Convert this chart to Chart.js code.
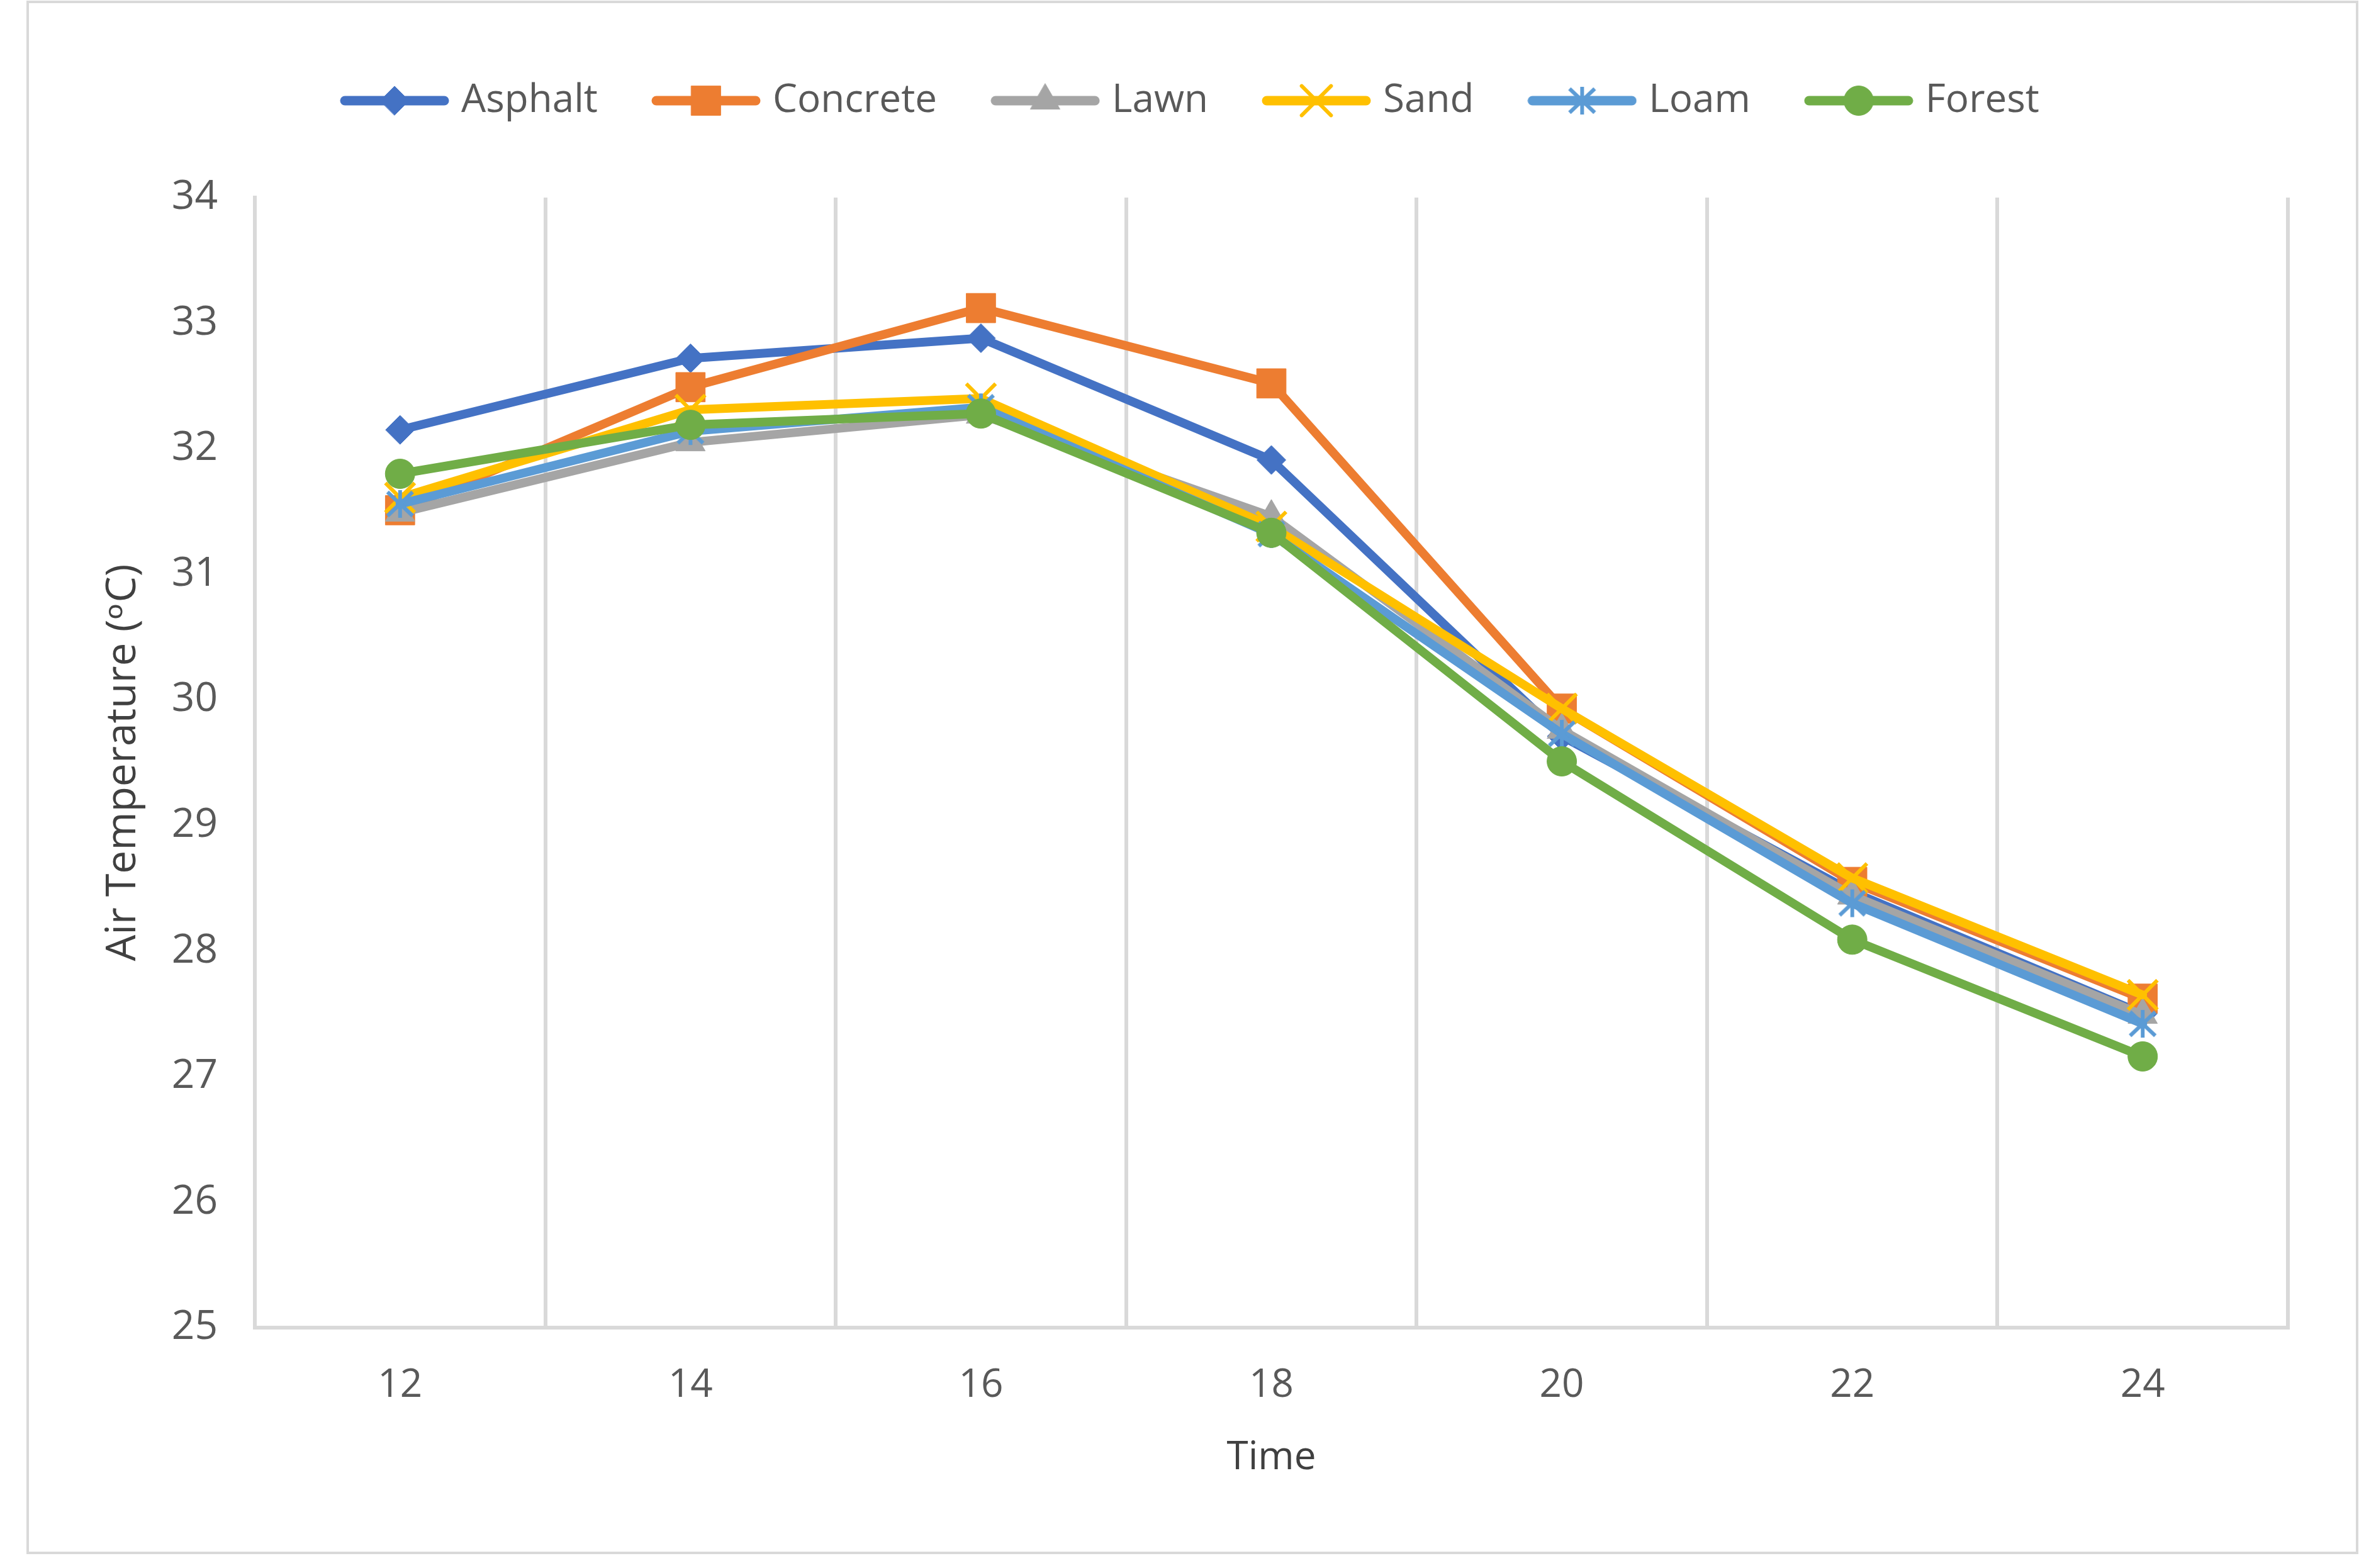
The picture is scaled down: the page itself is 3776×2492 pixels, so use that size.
<!DOCTYPE html>
<html>
<head>
<meta charset="utf-8">
<script src="https://cdn.jsdelivr.net/npm/chart.js@4.4.0/dist/chart.umd.min.js"></script>
<style>
  html, body { margin: 0; padding: 0; background: #fff; }
  canvas { display: block; }
</style>
</head>
<body>
<canvas id="tempChart" width="3776" height="2492"></canvas>
<script>
// Hours of the day (x categories)
const hours = ["12", "14", "16", "18", "20", "22", "24"];

// Air temperature (°C) per surface type
const asphalt = [32.15, 32.72, 32.88, 31.91, 29.71, 28.47, 27.5];
const concrete = [31.51, 32.49, 33.12, 32.52, 29.93, 28.55, 27.62];
const lawn = [31.49, 32.05, 32.27, 31.46, 29.76, 28.44, 27.49];
const sand = [31.61, 32.31, 32.4, 31.38, 29.93, 28.58, 27.65];
const loam = [31.56, 32.14, 32.33, 31.32, 29.73, 28.38, 27.42];
const forest = [31.8, 32.19, 32.28, 31.33, 29.51, 28.09, 27.16];

const surfaceNames = ["Asphalt", "Concrete", "Lawn", "Sand", "Loam", "Forest"];
const series = [asphalt, concrete, lawn, sand, loam, forest];
const surfaceColors = ["#4472c4", "#ed7d31", "#a5a5a5", "#ffc000", "#5b9bd5", "#70ad47"];

Chart.defaults.font.family = "'Open Sans', 'DejaVu Sans', sans-serif";

// Excel style asterisk marker (vertical bar + X) for Loam
function asteriskMarker(color) {
  const cv = document.createElement("canvas");
  cv.width = 52;
  cv.height = 52;
  const c = cv.getContext("2d");
  c.strokeStyle = color;
  c.lineWidth = 6;
  c.beginPath();
  c.moveTo(26, 4); c.lineTo(26, 48);
  c.moveTo(6, 7); c.lineTo(46, 45);
  c.moveTo(46, 7); c.lineTo(6, 45);
  c.stroke();
  return cv;
}

const markerStyles = ["rectRot", "rect", "triangle", "crossRot", asteriskMarker(surfaceColors[4]), "circle"];
const markerRadii = [23, 33, 27, 33, 23, 23.5];
const markerBorders = [1, 1, 1, 6, 6, 1];

// legend symbol: short line with the marker in the middle
function legendSymbol(i) {
  const cv = document.createElement("canvas");
  cv.width = 174;
  cv.height = 60;
  const c = cv.getContext("2d");
  c.strokeStyle = surfaceColors[i];
  c.fillStyle = surfaceColors[i];
  c.lineWidth = 15;
  c.lineCap = "round";
  c.beginPath();
  c.moveTo(8, 30);
  c.lineTo(166, 30);
  c.stroke();
  c.lineWidth = markerBorders[i];
  Chart.helpers.drawPoint(c, {
    pointStyle: markerStyles[i],
    radius: markerRadii[i],
    rotation: 0,
    borderWidth: markerBorders[i],
  }, 87, 30);
  return cv;
}

const chartFrame = {
  id: "chartFrame",
  beforeDraw(chart) {
    const c = chart.ctx;
    c.save();
    c.fillStyle = "#ffffff";
    c.fillRect(0, 0, chart.width, chart.height);
    c.strokeStyle = "#d9d9d9";
    c.lineWidth = 4;
    c.strokeRect(44, 3, 3702, 2465);
    c.restore();
  },
};

const ctx = document.getElementById("tempChart").getContext("2d");
new Chart(ctx, {
  type: "line",
  data: {
    labels: hours,
    datasets: surfaceNames.map((name, i) => ({
      label: name,
      data: series[i],
      borderColor: surfaceColors[i],
      backgroundColor: surfaceColors[i],
      borderWidth: 14,
      borderCapStyle: "round",
      borderJoinStyle: "round",
      pointStyle: markerStyles[i],
      pointRadius: markerRadii[i],
      pointBorderWidth: markerBorders[i],
      pointBackgroundColor: surfaceColors[i],
      pointBorderColor: surfaceColors[i],
      tension: 0,
      order: surfaceNames.length - i, // later series drawn on top, like Excel
    })),
  },
  options: {
    responsive: false,
    devicePixelRatio: 1,
    animation: false,
    events: [],
    layout: {
      padding: { top: 32, left: 157, right: 140, bottom: 137 },
    },
    plugins: {
      tooltip: { enabled: false },
      // empty title used only as a gap between the legend and the plot
      title: {
        display: true,
        text: "",
        weight: 500,
        padding: 0,
        font: { size: 10, lineHeight: "113px" },
      },
      legend: {
        position: "top",
        labels: {
          usePointStyle: true,
          pointStyleWidth: 150,
          padding: 97,
          color: "#595959",
          font: { size: 62 },
          generateLabels: (chart) =>
            chart.data.datasets.map((ds, i) => ({
              text: ds.label,
              pointStyle: legendSymbol(i),
              fillStyle: surfaceColors[i],
              strokeStyle: surfaceColors[i],
              lineWidth: 0,
              fontColor: "#595959",
              hidden: false,
              datasetIndex: i,
            })),
        },
      },
    },
    scales: {
      x: {
        type: "category",
        offset: true,
        grid: { offset: true, color: "#d9d9d9", lineWidth: 6, drawTicks: false },
        border: { color: "#d9d9d9", width: 6 },
        ticks: { color: "#595959", font: { size: 62 }, padding: 55 },
        title: {
          display: true,
          text: "Time",
          color: "#404040",
          font: { size: 62 },
          padding: 0,
        },
        afterFit(scale) {
          scale.height = 245;
        },
      },
      y: {
        type: "linear",
        min: 25,
        max: 34,
        ticks: { stepSize: 1, color: "#595959", font: { size: 64 }, padding: 59 },
        grid: { display: false, drawTicks: false },
        border: { display: true, color: "#d9d9d9", width: 6 },
        title: {
          display: true,
          text: "Air Temperature (ᵒC)",
          color: "#404040",
          font: { size: 66 },
          padding: 0,
        },
        afterFit(scale) {
          scale.width = 248;
        },
      },
    },
  },
  plugins: [chartFrame],
});
</script>
</body>
</html>
